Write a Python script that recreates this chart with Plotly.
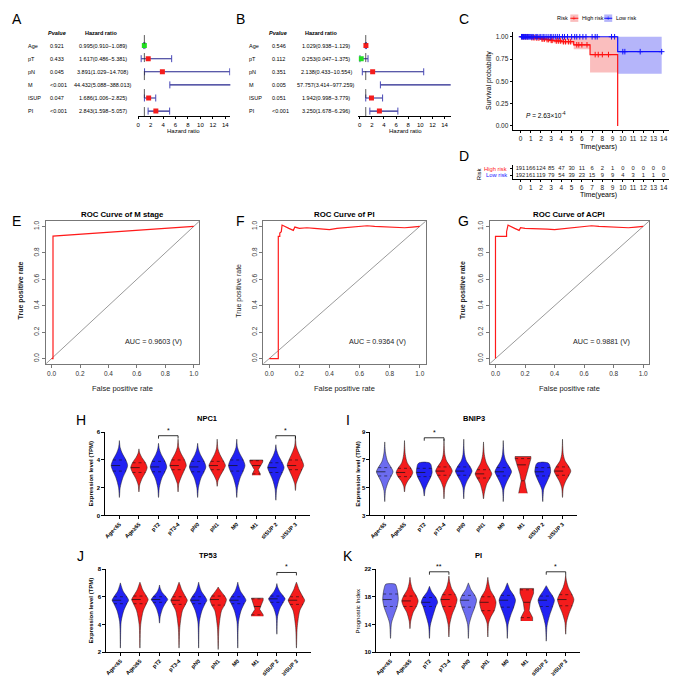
import numpy as np
import plotly.graph_objects as go

# ======================= DATA =======================
forest_vars = ["Age", "pT", "pN", "M", "ISUP", "PI"]
uni_p = ["0.921", "0.433", "0.045", "<0.001", "0.047", "<0.001"]
uni_hr = [0.995, 1.617, 3.891, 44.432, 1.686, 2.843]
uni_lo = [0.910, 0.486, 1.029, 5.088, 1.006, 1.598]
uni_hi = [1.089, 5.381, 14.708, 388.013, 2.825, 5.057]
multi_p = ["0.546", "0.112", "0.351", "0.005", "0.051", "<0.001"]
multi_hr = [1.029, 0.253, 2.138, 57.757, 1.942, 3.250]
multi_lo = [0.938, 0.047, 0.433, 3.414, 0.998, 1.678]
multi_hi = [1.129, 1.375, 10.554, 977.259, 3.779, 6.296]
hr_ticks = [0, 2, 4, 6, 8, 10, 12, 14]

km_high_t = [0, 0.9, 1.5, 2.0, 2.5, 2.9, 3.3, 4.0, 5.2, 6.8, 9.5]
km_high_s = [1.0, 0.99, 0.985, 0.975, 0.968, 0.96, 0.953, 0.945, 0.91, 0.80, 0.0]
km_high_lower = [1.0, 0.975, 0.968, 0.955, 0.946, 0.936, 0.927, 0.915, 0.86, 0.60, 0.60]
km_high_upper = [1.0, 1.0, 1.0, 1.0, 1.0, 1.0, 1.0, 1.0, 1.0, 1.0, 1.0]
km_high_cens = [0.15, 0.3, 0.5, 0.7, 1.1, 1.25, 1.4, 1.6, 1.8, 2.1, 2.2, 2.35, 2.6, 2.75,
                3.0, 3.1, 3.5, 3.7, 3.9, 4.2, 4.4, 4.7, 4.9, 5.5, 5.7, 6.0, 6.5, 7.3,
                7.6, 8.0, 8.6]
km_low_t = [0, 9.5, 13.8]
km_low_s = [1.0, 0.833, 0.833]
km_low_lower = [1.0, 0.585, 0.585]
km_low_upper = [1.0, 1.0, 1.0]
km_low_cens = [0.1, 0.2, 0.3, 0.4, 0.5, 0.6, 0.7, 0.8, 0.9, 1.0, 1.1, 1.2, 1.3, 1.5, 1.6,
               1.7, 1.9, 2.0, 2.2, 2.3, 2.5, 2.7, 2.9, 3.0, 3.2, 3.4, 3.6, 3.8, 4.1, 4.3,
               4.6, 5.0, 5.3, 5.5, 5.8, 6.1, 6.4, 7.0, 7.3, 7.5, 8.9, 9.2, 10.0, 10.2,
               11.7, 13.8]
km_years = list(range(16))
km_p_text = "<i>P</i> = 2.63×10<sup>-4</sup>"

risk_groups = ["High risk", "Low risk"]
risk_high = [191, 166, 124, 85, 47, 30, 11, 6, 2, 1, 0, 0, 0, 0, 0, 0]
risk_low = [192, 161, 119, 79, 54, 39, 23, 15, 9, 9, 4, 3, 1, 1, 0, 0]

roc_ticks = [0, 0.2, 0.4, 0.6, 0.8, 1.0]
roc_m_fpr = [0, 0.01, 0.01, 1.0]
roc_m_tpr = [0, 0.0, 0.927, 1.0]
roc_pi_fpr = [0, 0.06, 0.06, 0.07, 0.07, 0.08, 0.085, 0.1, 0.13, 0.16, 0.17, 0.2, 0.25,
              0.3, 0.35, 0.4, 0.45, 0.5, 0.55, 0.6, 0.65, 0.7, 0.8, 0.9, 0.95, 1.0]
roc_pi_tpr = [0, 0, 0.925, 0.925, 0.95, 0.96, 1.01, 1.0, 0.985, 0.97, 0.995, 0.985, 0.99,
              0.985, 0.98, 0.975, 0.985, 0.99, 0.995, 1.0, 1.005, 1.0, 0.995, 0.99, 0.995, 1.0]
roc_acpi_fpr = [0, 0, 0.075, 0.075, 0.085, 0.1, 0.13, 0.16, 0.17, 0.2, 0.25, 0.3, 0.35,
                0.4, 0.45, 0.5, 0.55, 0.6, 0.65, 0.7, 0.8, 0.9, 0.95, 1.0]
roc_acpi_tpr = [0, 0.925, 0.925, 0.96, 1.01, 1.0, 0.985, 0.97, 0.99, 0.985, 0.985, 0.98,
                0.98, 0.975, 0.98, 0.99, 0.995, 1.0, 1.005, 1.0, 0.995, 0.99, 0.995, 1.0]

groups = ["Age<65", "Age≥65", "pT2", "pT3-4", "pN0", "pN1", "M0", "M1", "≤ISUP 2", "≥ISUP 3"]
BODY = [0, 0.04, 0.17, 0.33, 0.42, 0.33, 0.14, 0.04, 0]
FLAT = [0, 0.05, 0.2, 0.34, 0.4, 0.38, 0.33, 0.25, 0]

npc1_levels = [[1.3, 2.0, 2.7, 3.2, 3.6, 4.0, 4.5, 4.9, 5.4],
               [1.7, 2.2, 2.7, 3.1, 3.45, 3.8, 4.2, 4.5, 4.8],
               [1.3, 2.0, 2.7, 3.15, 3.5, 3.9, 4.4, 4.8, 5.2],
               [1.7, 2.3, 2.8, 3.3, 3.6, 4.0, 4.5, 4.9, 5.5],
               [1.3, 2.0, 2.7, 3.15, 3.5, 3.9, 4.4, 4.8, 5.2],
               [2.1, 2.5, 2.9, 3.3, 3.6, 3.9, 4.4, 4.8, 5.5],
               [1.3, 2.0, 2.7, 3.2, 3.6, 4.0, 4.5, 4.9, 5.5],
               [2.9, 3.0, 3.3, 3.6, 3.85, 4.0],
               [1.1, 1.9, 2.6, 3.1, 3.45, 3.8, 4.3, 4.7, 5.1],
               [1.8, 2.3, 2.8, 3.3, 3.6, 4.0, 4.6, 5.0, 5.7]]
npc1_widths = [BODY] * 7 + [[0.2, 0.2, 0.1, 0.22, 0.33, 0.33]] + [BODY] * 2
npc1_quart = [(3.2, 3.6, 4.0), (3.1, 3.45, 3.8), (3.15, 3.5, 3.9), (3.3, 3.6, 4.0),
              (3.15, 3.5, 3.9), (3.3, 3.6, 3.9), (3.2, 3.6, 4.0), (3.0, 3.6, 3.95),
              (3.1, 3.45, 3.8), (3.3, 3.6, 4.0)]
npc1_brackets = [(2, 3, 5.75, "*"), (8, 9, 5.75, "*")]

bnip3_levels = [[4.0, 4.8, 5.4, 5.85, 6.15, 6.45, 6.9, 7.5, 8.3],
                [4.7, 5.1, 5.5, 5.8, 6.1, 6.4, 6.8, 7.4, 8.4],
                [4.4, 4.9, 5.4, 5.8, 6.1, 6.4, 6.7, 6.8, 6.85],
                [4.2, 5.0, 5.5, 5.9, 6.2, 6.5, 6.9, 7.4, 8.5],
                [4.2, 5.0, 5.5, 5.9, 6.2, 6.5, 6.9, 7.4, 8.5],
                [4.2, 4.6, 5.3, 5.7, 6.0, 6.3, 6.8, 7.4, 8.3],
                [4.0, 4.9, 5.4, 5.85, 6.15, 6.45, 6.9, 7.4, 8.4],
                [4.6, 5.0, 5.5, 6.0, 6.6, 7.1, 7.25],
                [4.0, 4.9, 5.4, 5.85, 6.15, 6.45, 6.7, 6.8, 6.85],
                [4.3, 5.0, 5.5, 5.9, 6.2, 6.5, 6.9, 7.4, 8.5]]
bnip3_widths = [BODY, BODY, FLAT, BODY, BODY, BODY, BODY,
                [0.22, 0.15, 0.09, 0.16, 0.3, 0.4, 0.4], FLAT, BODY]
bnip3_quart = [(5.85, 6.15, 6.45), (5.8, 6.1, 6.4), (5.8, 6.1, 6.4), (5.9, 6.2, 6.5),
               (5.9, 6.2, 6.5), (5.7, 6.0, 6.3), (5.85, 6.15, 6.45), (5.5, 6.65, 7.1),
               (5.85, 6.15, 6.45), (5.9, 6.2, 6.5)]
bnip3_brackets = [(2, 3, 8.6, "*")]

tp53_levels = [[2.3, 4.2, 5.0, 5.5, 5.75, 6.0, 6.4, 6.8, 7.0],
               [2.3, 4.0, 5.0, 5.5, 5.8, 6.05, 6.5, 6.9, 7.05],
               [4.1, 4.6, 5.2, 5.6, 5.8, 6.0, 6.3, 6.6, 6.85],
               [2.3, 3.8, 5.0, 5.45, 5.75, 6.0, 6.5, 6.9, 7.05],
               [2.3, 4.2, 5.0, 5.5, 5.75, 6.0, 6.4, 6.8, 7.05],
               [2.2, 3.8, 5.0, 5.4, 5.8, 6.05, 6.4, 6.6, 6.7],
               [2.3, 4.2, 5.0, 5.5, 5.75, 6.0, 6.4, 6.8, 7.05],
               [4.6, 4.7, 5.1, 5.4, 5.75, 5.9],
               [3.3, 4.6, 5.2, 5.6, 5.85, 6.05, 6.4, 6.7, 6.95],
               [2.3, 3.8, 5.0, 5.45, 5.75, 6.0, 6.5, 6.9, 7.05]]
tp53_widths = [BODY] * 7 + [[0.3, 0.3, 0.12, 0.2, 0.3, 0.3]] + [BODY] * 2
tp53_quart = [(5.5, 5.75, 6.0), (5.5, 5.8, 6.05), (5.6, 5.8, 6.0), (5.45, 5.75, 6.0),
              (5.5, 5.75, 6.0), (5.4, 5.8, 6.05), (5.5, 5.75, 6.0), (4.7, 5.3, 5.85),
              (5.6, 5.85, 6.05), (5.45, 5.75, 6.0)]
tp53_brackets = [(8, 9, 7.75, "*")]

pi_levels = [[12.0, 14.2, 15.5, 16.6, 17.6, 18.4, 19.2, 19.8, 19.9],
             [13.4, 14.5, 15.8, 16.6, 17.4, 18.1, 19.0, 20.0, 20.8],
             [12.0, 13.8, 15.2, 16.6, 17.2, 17.9, 18.6, 19.2, 19.5],
             [12.2, 14.0, 15.5, 16.6, 17.6, 18.3, 19.2, 20.2, 21.0],
             [12.0, 14.0, 15.3, 16.5, 17.5, 18.2, 19.0, 19.7, 20.0],
             [12.2, 14.2, 15.2, 16.0, 17.2, 18.0, 18.9, 20.0, 20.8],
             [12.0, 14.0, 15.3, 16.5, 17.5, 18.2, 19.0, 19.7, 20.0],
             [14.5, 15.0, 16.0, 17.2, 18.5, 19.2],
             [11.6, 13.8, 15.3, 16.6, 17.5, 18.1, 18.9, 19.4, 19.6],
             [12.6, 14.3, 15.6, 16.7, 17.6, 18.3, 19.3, 20.3, 21.2]]
pi_widths = [FLAT] + [BODY] * 6 + [[0.3, 0.3, 0.12, 0.18, 0.35, 0.35]] + [BODY] * 2
pi_quart = [(16.6, 17.6, 18.4), (16.6, 17.4, 18.1), (16.6, 17.2, 17.9), (16.6, 17.6, 18.3),
            (16.5, 17.5, 18.2), (16.0, 17.2, 18.0), (16.5, 17.5, 18.2), (15.0, 17.2, 19.0),
            (16.6, 17.5, 18.1), (16.7, 17.6, 18.3)]
pi_brackets = [(2, 3, 21.6, "**"), (8, 9, 21.6, "*")]

# ======================= HELPERS =======================
W = 677
FONT = "Liberation Sans, Arial, sans-serif"
BLUE, LBLUE, RED, GREEN = "#2222f2", "#6c6cf0", "#f41c1c", "#22dd22"


def px(x):
    return x / W


def py(y):
    return 1 - y / W


fig = go.Figure()
axes_layout = {}
annots = []
shapes = []
counter = [0]


def new_axes(x0, x1, y0, y1, xo, yo):
    counter[0] += 1
    s = "" if counter[0] == 1 else str(counter[0])
    axes_layout["xaxis" + s] = dict(domain=[px(x0), px(x1)], anchor="y" + s, **xo)
    axes_layout["yaxis" + s] = dict(domain=[py(y1), py(y0)], anchor="x" + s, **yo)
    return "x" + s, "y" + s


def text(x, y, s, size=6, color="black", xanchor="center", yanchor="middle", angle=0,
         xref="paper", yref="paper"):
    annots.append(dict(x=px(x) if xref == "paper" else x, y=py(y) if yref == "paper" else y,
                       xref=xref, yref=yref, text=s, showarrow=False,
                       font=dict(family=FONT, size=size, color=color),
                       xanchor=xanchor, yanchor=yanchor, textangle=angle))


def add(tr, xa, ya):
    tr.update(xaxis=xa, yaxis=ya, hoverinfo="skip", showlegend=False)
    fig.add_trace(tr)


# ======================= A / B: forest =======================
def forest(x0, x1, rng, hr, lo, hi, pvals, lab_x, p_x, hr_x, hp_x, hh_x, title_x):
    xa, ya = new_axes(
        x0, x1, 23, 106,
        dict(range=rng, showline=True, linecolor="black", linewidth=0.8, ticks="outside",
             ticklen=2.5, tickwidth=0.8, tickcolor="black", tickvals=hr_ticks,
             tickfont=dict(family=FONT, size=6), showgrid=False, zeroline=False),
        dict(range=[-0.38, 5.9], visible=False))
    rows = [5 - i for i in range(len(hr))]
    cx, cy = [], []
    for r, l, h in zip(rows, lo, hi):
        cx += [l, h, None]
        cy += [r, r, None]
    add(go.Scatter(x=cx, y=cy, mode="lines", line=dict(color="#23238c", width=1.1)), xa, ya)
    add(go.Scatter(x=lo + hi, y=rows + rows, mode="markers",
                   marker=dict(symbol="line-ns", size=5, line=dict(color="#4848b8", width=1))),
        xa, ya)
    add(go.Scatter(x=hr, y=rows, mode="markers",
                   marker=dict(symbol="square", size=5,
                               color=[GREEN if v < 1 else RED for v in hr])), xa, ya)
    shapes.append(dict(type="line", xref=xa, yref=ya + " domain", x0=1, x1=1, y0=0, y1=1,
                       line=dict(color="#333", width=0.8, dash="dash")))
    text(hp_x, 22, "<b><i>Pvalue</i></b>", size=5.5)
    text(hh_x, 22, "<b>Hazard ratio</b>", size=5.5)
    for r, name, p, h, l, u in zip(rows, forest_vars, pvals, hr, lo, hi):
        text(lab_x, r, name, size=5.5, xanchor="left", yref=ya)
        text(p_x, r, p, size=5.5, xanchor="left", yref=ya)
        text(hr_x, r, f"{h:.3f}({l:.3f}\u2212{u:.3f})", size=5.5, yref=ya)
    text(title_x, 121, "Hazard ratio", size=6)


forest(128.9, 222, [-0.1, 14.8], uni_hr, uni_lo, uni_hi, uni_p, 17, 39.5, 94, 48, 92, 175)
forest(350.5, 443, [-0.2, 15], multi_hr, multi_lo, multi_hi, multi_p, 239, 262, 318, 270, 313, 398)

# ======================= C: Kaplan-Meier =======================
km_x = dict(range=[-0.78, 15.3], tickvals=km_years, showline=True, linecolor="black",
            linewidth=0.8, ticks="outside", ticklen=2, tickcolor="black",
            tickfont=dict(family=FONT, size=6.5, color="#222"), showgrid=False, zeroline=False)
xa, ya = new_axes(505, 670, 21.5, 120, km_x,
                  dict(range=[-0.045, 1.05], tickvals=[0, 0.25, 0.5, 0.75, 1.0],
                       ticktext=["0.00", "0.25", "0.50", "0.75", "1.00"], showline=True,
                       linecolor="black", linewidth=0.8, ticks="outside", ticklen=2,
                       tickcolor="black", tickfont=dict(family=FONT, size=6.5, color="#222"),
                       showgrid=False, zeroline=False))
add(go.Scatter(x=km_high_t, y=km_high_upper, mode="lines", line=dict(width=0, shape="hv")), xa, ya)
add(go.Scatter(x=km_high_t, y=km_high_lower, mode="lines", fill="tonexty",
               fillcolor="rgba(245,110,110,0.45)", line=dict(width=0, shape="hv")), xa, ya)
add(go.Scatter(x=km_low_t, y=km_low_upper, mode="lines", line=dict(width=0, shape="hv")), xa, ya)
add(go.Scatter(x=km_low_t, y=km_low_lower, mode="lines", fill="tonexty",
               fillcolor="rgba(90,90,245,0.45)", line=dict(width=0, shape="hv")), xa, ya)
add(go.Scatter(x=km_high_t, y=km_high_s, mode="lines", line=dict(color="#ff1111", width=1.2, shape="hv")), xa, ya)
add(go.Scatter(x=km_low_t, y=km_low_s, mode="lines", line=dict(color="#1111ff", width=1.2, shape="hv")), xa, ya)


def step_at(times, surv, ts):
    idx = np.searchsorted(times, ts, side="right") - 1
    return [surv[i] for i in idx]


add(go.Scatter(x=km_high_cens, y=step_at(km_high_t, km_high_s, km_high_cens), mode="markers",
               marker=dict(symbol="cross-thin", size=4, line=dict(color="#ff1111", width=1))), xa, ya)
add(go.Scatter(x=km_low_cens, y=step_at(km_low_t, km_low_s, km_low_cens), mode="markers",
               marker=dict(symbol="cross-thin", size=4, line=dict(color="#1111ff", width=1))), xa, ya)
annots.append(dict(x=0.3, y=0.12, xref=xa, yref=ya, text=km_p_text, showarrow=False,
                   xanchor="left", font=dict(family=FONT, size=6.5)))
text(591, 137, "Time(years)", size=7)
text(482, 70, "Survival probability", size=7, angle=-90)
# legend
text(555, 7, "Risk", size=5.5)
for bx, col, fillc, lab, lx in [(563, "#ff1111", "rgba(245,110,110,0.45)", risk_groups[0], 573),
                                 (597, "#1111ff", "rgba(90,90,245,0.45)", risk_groups[1], 607)]:
    shapes.append(dict(type="rect", xref="paper", yref="paper", x0=px(bx), x1=px(bx + 8),
                       y0=py(11), y1=py(3.5), fillcolor=fillc, line=dict(width=0)))
    shapes.append(dict(type="line", xref="paper", yref="paper", x0=px(bx), x1=px(bx + 8),
                       y0=py(7.3), y1=py(7.3), line=dict(color=col, width=1)))
    text(bx + 4, 7.3, "+", size=7, color=col)
    text(lx, 7.3, lab, size=5.5, xanchor="left")

# ======================= D: risk table =======================
xa, ya = new_axes(505, 670, 155.5, 170, km_x,
                  dict(range=[-0.65, 1.6], tickvals=[1, 0], showticklabels=False,
                       showline=True, linecolor="black", linewidth=0.8, ticks="outside",
                       ticklen=2, tickcolor="black", showgrid=False, zeroline=False))
add(go.Scatter(x=km_years + km_years, y=[1] * 16 + [0] * 16, mode="text",
               text=[str(v) for v in risk_high + risk_low], cliponaxis=False,
               textfont=dict(family=FONT, size=5.8, color="#222")), xa, ya)
text(501, 1, risk_groups[0], size=5.8, color="#ff2020", xanchor="right", yref=ya)
text(501, 0, risk_groups[1], size=5.8, color="#2020ff", xanchor="right", yref=ya)
annots[-1]["x"] = px(501)
annots[-2]["x"] = px(501)
text(591, 186, "Time(years)", size=7)
text(471, 164, "Risk", size=6, angle=-90)

# ======================= E/F/G: ROC =======================
roc_axis = dict(range=[-0.04, 1.04], showline=True, mirror=True, linecolor="#777",
                linewidth=0.8, ticks="outside", ticklen=3, tickcolor="#777",
                tickvals=roc_ticks, ticktext=[f"{v:.1f}" for v in roc_ticks],
                tickfont=dict(family=FONT, size=6.5, color="#333"), showgrid=False,
                zeroline=False)


def roc(x0, x1, fpr, tpr, title, auc, ylab_x, bold_ylab):
    xa, ya = new_axes(x0, x1, 212, 356, roc_axis, dict(roc_axis, tickangle=-90))
    add(go.Scatter(x=[-0.04, 1.04], y=[-0.04, 1.04], mode="lines",
                   line=dict(color="#555", width=0.6)), xa, ya)
    add(go.Scatter(x=fpr, y=tpr, mode="lines", line=dict(color="#ff1a1a", width=1.2)), xa, ya)
    cx = (x0 + x1) / 2
    text(cx, 205, f"<b>{title}</b>", size=7.8)
    annots.append(dict(x=0.72, y=0.13, xref=xa, yref=ya, text=f"AUC = {auc} (V)",
                       showarrow=False, font=dict(family=FONT, size=7.2, color="#222")))
    text(cx, 381, "False positive rate", size=7.5, color="#222")
    lab = "<b>True positive rate</b>" if bold_ylab else "True positive rate"
    text(ylab_x, 282, lab, size=7, angle=-90, color="#222")


roc(37, 191, roc_m_fpr, roc_m_tpr, "ROC Curve of M stage", "0.9603", 12, True)
roc(255, 418, roc_pi_fpr, roc_pi_tpr, "ROC Curve of PI", "0.9364", 230, False)
roc(482, 642, roc_acpi_fpr, roc_acpi_tpr, "ROC Curve of ACPI", "0.9881", 455, True)


# ======================= H-K: violins =======================
def violin_panel(x0, x1, y0, y1, rng, ticks, levels, widths, quart, brackets, light, title,
                 ylab, ylab_bold, ylab_x):
    xa, ya = new_axes(
        x0, x1, y0, y1,
        dict(range=[-0.75, 9.75], tickvals=list(range(10)), ticktext=groups, tickangle=-45,
             showline=True, linecolor="black", linewidth=1, ticks="outside", ticklen=2.5,
             tickcolor="black", tickfont=dict(family=FONT, size=5.5, weight="bold"),
             showgrid=False, zeroline=False),
        dict(range=rng, tickvals=ticks, showline=True, linecolor="black", linewidth=1,
             ticks="outside", ticklen=2.5, tickcolor="black",
             tickfont=dict(family=FONT, size=6, weight="bold"), showgrid=False,
             zeroline=False))
    for k in range(len(groups)):
        ys, ws = levels[k], widths[k]
        xs = [k - w for w in ws] + [k + w for w in ws[::-1]]
        yy = list(ys) + list(ys[::-1])
        col = LBLUE if k in light else (BLUE if k % 2 == 0 else RED)
        shape = "spline" if ws[0] == 0 else "linear"
        add(go.Scatter(x=xs, y=yy, mode="lines", fill="toself", fillcolor=col,
                       line=dict(color="#1a1a1a", width=0.5, shape=shape, smoothing=0.8)),
            xa, ya)
    mx, my, qx, qy = [], [], [], []
    for k in range(len(groups)):
        q1, md, q3 = quart[k]
        for val, X, Y in ((md, mx, my), (q1, qx, qy), (q3, qx, qy)):
            w = float(np.interp(val, levels[k], widths[k]))
            X += [k - w, k + w, None]
            Y += [val, val, None]
    add(go.Scatter(x=mx, y=my, mode="lines", line=dict(color="#111", width=0.7, dash="dash")), xa, ya)
    add(go.Scatter(x=qx, y=qy, mode="lines", line=dict(color="#111", width=0.6, dash="dot")), xa, ya)
    d = 0.035 * (rng[1] - rng[0])
    for i, j, yb, lab in brackets:
        add(go.Scatter(x=[i, i, j, j], y=[yb - d, yb, yb, yb - d], mode="lines",
                       line=dict(color="black", width=0.8)), xa, ya)
        annots.append(dict(x=(i + j) / 2, y=yb, xref=xa, yref=ya, text=lab, showarrow=False,
                           yanchor="bottom", font=dict(family=FONT, size=7)))
    text((x0 + x1) / 2, y0 - 14, f"<b>{title}</b>", size=7.5)
    text(ylab_x, (y0 + y1) / 2, f"<b>{ylab}</b>" if ylab_bold else ylab, size=6, angle=-90)


violin_panel(96, 302, 425, 509, [0, 6], [0, 2, 4, 6], npc1_levels, npc1_widths, npc1_quart,
             npc1_brackets, set(), "NPC1", "Expression level (TPM)", True, 82)
violin_panel(362, 570, 425, 509, [3, 9], [3, 5, 7, 9], bnip3_levels, bnip3_widths, bnip3_quart,
             bnip3_brackets, {0}, "BNIP3", "Expression level (TPM)", True, 350)
violin_panel(97, 303, 563, 647, [2, 8], [2, 4, 6, 8], tp53_levels, tp53_widths, tp53_quart,
             tp53_brackets, set(), "TP53", "Expression level (TPM)", True, 82)
violin_panel(368, 573, 563, 647, [10, 22], [10, 14, 18, 22], pi_levels, pi_widths, pi_quart,
             pi_brackets, {0, 4}, "PI", "Prognostic Index", False, 350)

# ======================= panel letters =======================
for lab, lx, ly in [("A", 8, 8), ("B", 232, 8), ("C", 456, 8), ("D", 456, 146),
                    ("E", 8, 212), ("F", 232, 212), ("G", 456, 212),
                    ("H", 72, 413), ("I", 340, 413), ("J", 72, 550), ("K", 340, 550)]:
    text(lx, ly, lab, size=14)

fig.update_layout(width=W, height=W, margin=dict(l=0, r=0, t=0, b=0),
                  paper_bgcolor="white", plot_bgcolor="white", showlegend=False,
                  font=dict(family=FONT, color="black"),
                  annotations=annots, shapes=shapes, **axes_layout)
fig.write_html("out.html")
